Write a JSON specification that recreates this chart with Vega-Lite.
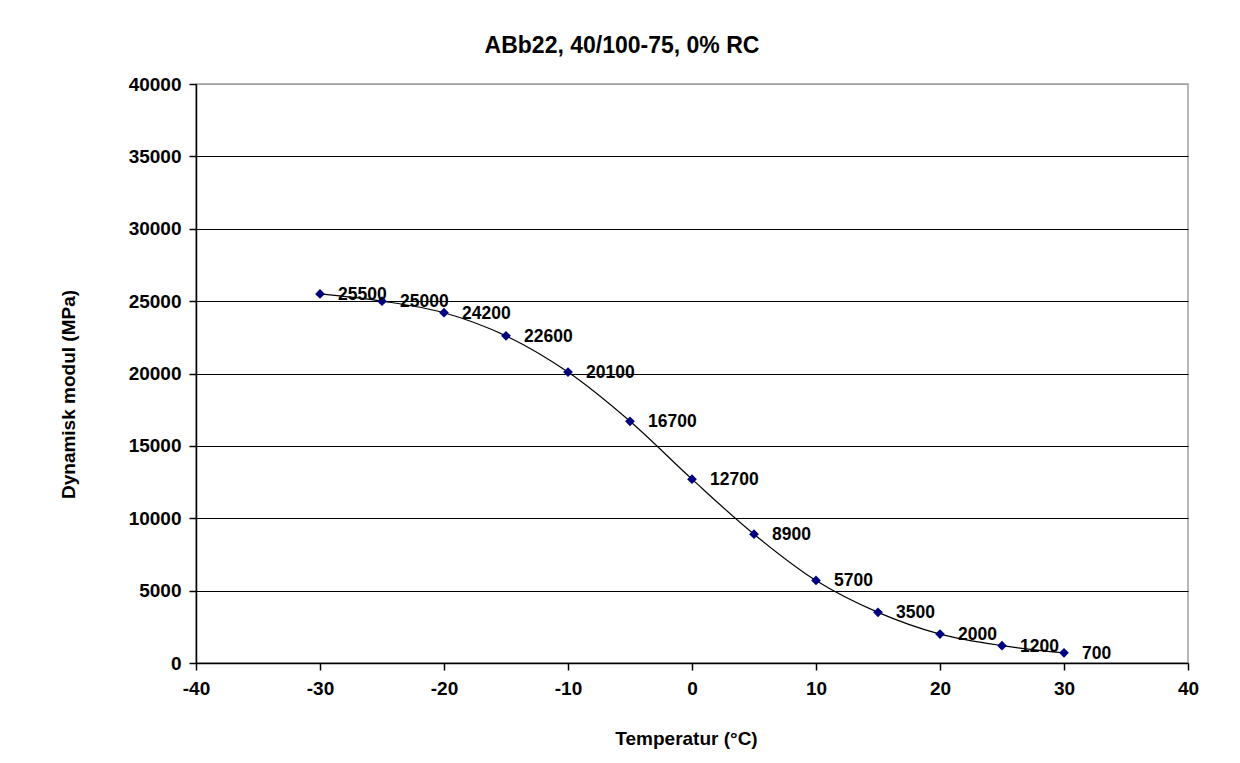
{
  "$schema": "https://vega.github.io/schema/vega-lite/v6.json",
  "autosize": "none",
  "width": 992,
  "height": 579,
  "padding": {"left": 196, "top": 84, "right": 52, "bottom": 100},
  "background": "white",
  "config": {
    "font": "Liberation Sans",
    "view": {"stroke": "#a0a0a0", "strokeWidth": 1.5}
  },
  "title": {
    "text": "ABb22, 40/100-75, 0% RC",
    "font": "Liberation Sans",
    "fontSize": 23,
    "fontWeight": "bold",
    "color": "black",
    "anchor": "middle",
    "dx": -70,
    "offset": 17
  },
  "data": {
    "values": [
      {"temp": -30, "modul": 25500},
      {"temp": -25, "modul": 25000},
      {"temp": -20, "modul": 24200},
      {"temp": -15, "modul": 22600},
      {"temp": -10, "modul": 20100},
      {"temp": -5, "modul": 16700},
      {"temp": 0, "modul": 12700},
      {"temp": 5, "modul": 8900},
      {"temp": 10, "modul": 5700},
      {"temp": 15, "modul": 3500},
      {"temp": 20, "modul": 2000},
      {"temp": 25, "modul": 1200},
      {"temp": 30, "modul": 700}
    ]
  },
  "encoding": {
    "x": {
      "field": "temp",
      "type": "quantitative",
      "scale": {"domain": [-40, 40], "nice": false, "zero": false},
      "axis": {
        "title": "Temperatur (°C)",
        "values": [-40, -30, -20, -10, 0, 10, 20, 30, 40],
        "labelExpr": "toString(datum.value)",
        "grid": false,
        "domainColor": "black",
        "domainWidth": 1.5,
        "tickColor": "black",
        "tickWidth": 1.5,
        "tickSize": 7,
        "labelFont": "Liberation Sans",
        "labelFontSize": 19,
        "labelFontWeight": "bold",
        "labelColor": "black",
        "labelPadding": 9,
        "labelFlush": false,
        "titleFont": "Liberation Sans",
        "titleFontSize": 19,
        "titleFontWeight": "bold",
        "titleColor": "black",
        "titleX": 490,
        "titlePadding": 31
      }
    },
    "y": {
      "field": "modul",
      "type": "quantitative",
      "scale": {"domain": [0, 40000], "nice": false},
      "axis": {
        "title": "Dynamisk modul (MPa)",
        "values": [0, 5000, 10000, 15000, 20000, 25000, 30000, 35000, 40000],
        "labelExpr": "toString(datum.value)",
        "grid": true,
        "gridColor": {"condition": {"test": "datum.value == 40000", "value": "#a0a0a0"}, "value": "black"},
        "gridWidth": 1.2,
        "domainColor": "black",
        "domainWidth": 1.5,
        "tickColor": "black",
        "tickWidth": 1.5,
        "tickSize": 7,
        "labelFont": "Liberation Sans",
        "labelFontSize": 19,
        "labelFontWeight": "bold",
        "labelColor": "black",
        "labelPadding": 8,
        "labelFlush": false,
        "titleFont": "Liberation Sans",
        "titleFontSize": 19,
        "titleFontWeight": "bold",
        "titleColor": "black",
        "titleY": 310,
        "titlePadding": 50
      }
    }
  },
  "layer": [
    {
      "mark": {"type": "line", "interpolate": "catmull-rom", "color": "black", "strokeWidth": 1.2}
    },
    {
      "mark": {"type": "point", "shape": "diamond", "filled": true, "color": "#000080", "size": 95, "opacity": 1}
    },
    {
      "mark": {"type": "text", "align": "left", "baseline": "middle", "dx": 18, "dy": 1, "font": "Liberation Sans", "fontSize": 17.5, "fontWeight": "bold", "color": "black"},
      "encoding": {"text": {"field": "modul", "type": "quantitative", "format": "d"}}
    }
  ]
}
